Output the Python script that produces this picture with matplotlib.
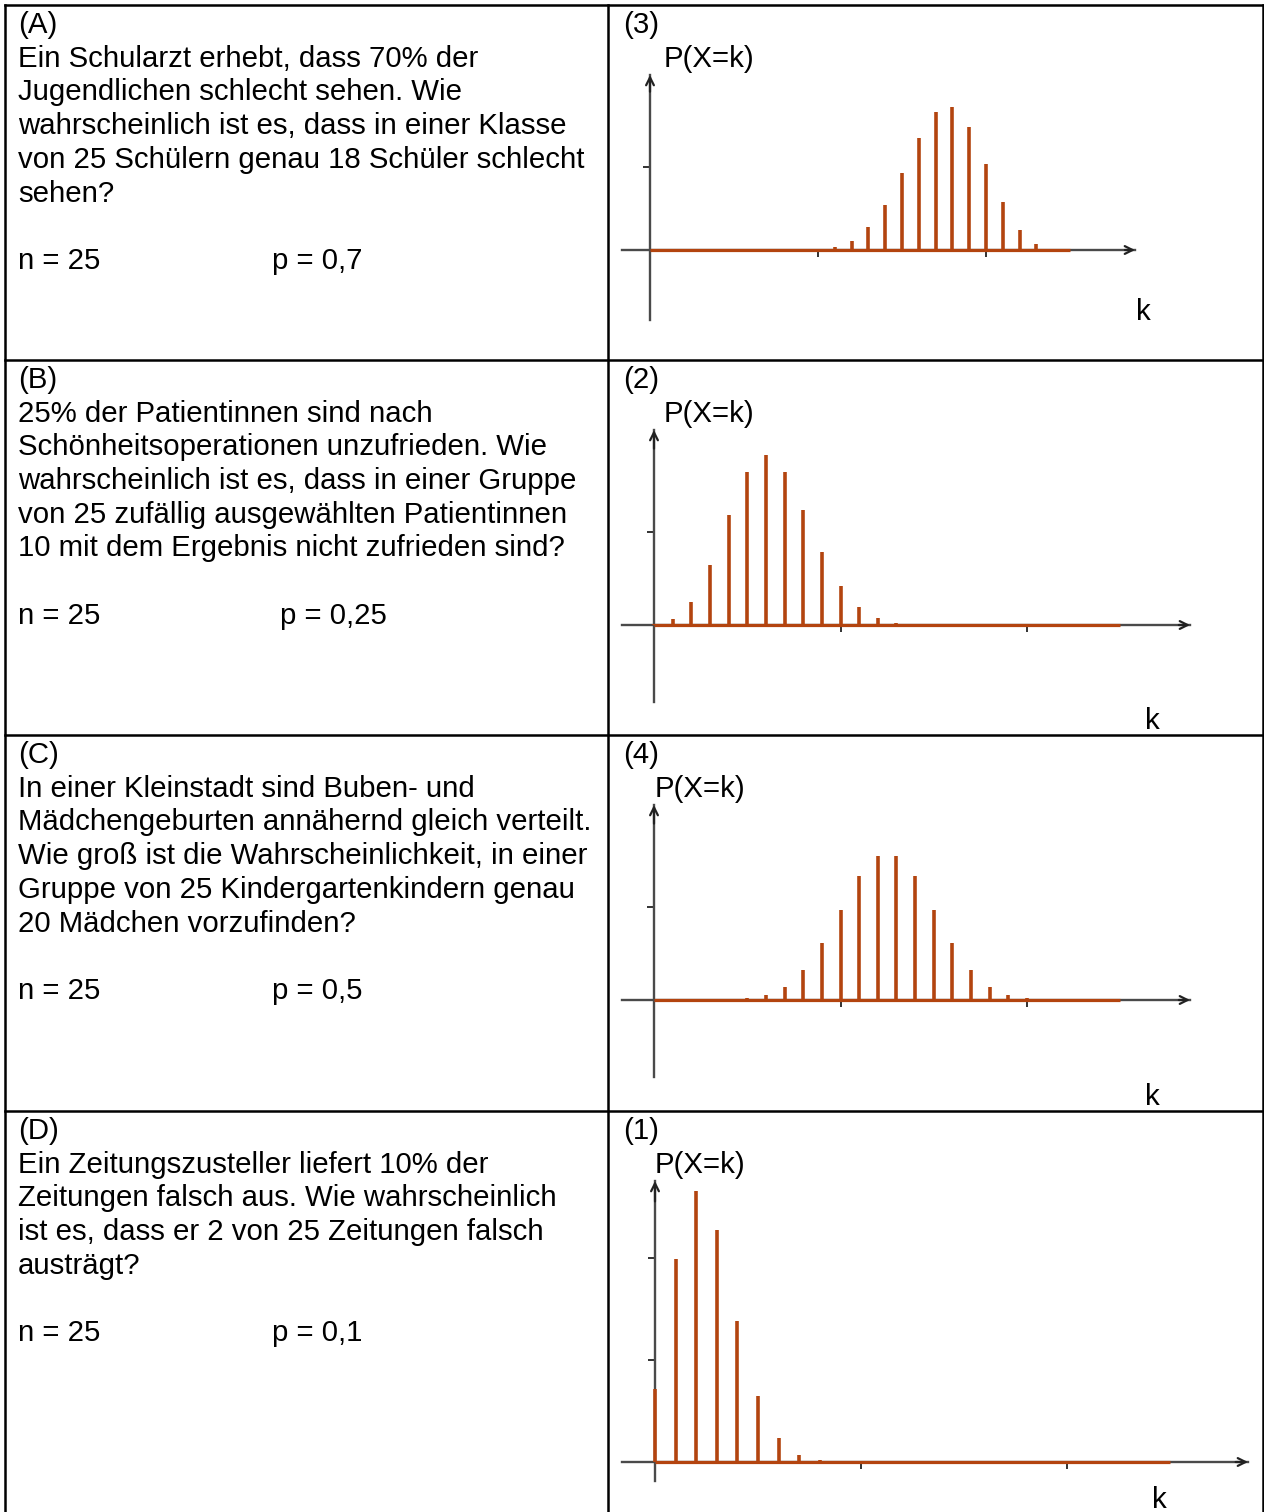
import matplotlib
matplotlib.use("Agg")
import matplotlib.pyplot as plt

plt.rcParams['font.family'] = ['Liberation Sans', 'DejaVu Sans']

# k = 0..25
k = list(range(26))
p_panel3 = [0, 0, 0, 0, 0, 0, 0, 0, 0, 0, 0.001, 0.004, 0.011, 0.027, 0.054,
            0.092, 0.134, 0.165, 0.171, 0.147, 0.103, 0.057, 0.024, 0.007,
            0.001, 0.0001]
p_panel2 = [0.001, 0.006, 0.025, 0.064, 0.118, 0.165, 0.183, 0.165, 0.124,
            0.078, 0.042, 0.019, 0.007, 0.002, 0.001, 0, 0, 0, 0, 0, 0, 0,
            0, 0, 0, 0]
p_panel4 = [0, 0, 0, 0, 0.0004, 0.002, 0.005, 0.014, 0.032, 0.061, 0.097,
            0.133, 0.155, 0.155, 0.133, 0.097, 0.061, 0.032, 0.014, 0.005,
            0.002, 0.0004, 0, 0, 0, 0]
p_panel1 = [0.072, 0.199, 0.266, 0.227, 0.138, 0.065, 0.024, 0.007, 0.002,
            0.0004, 0, 0, 0, 0, 0, 0, 0, 0, 0, 0, 0, 0, 0, 0, 0, 0]

panel_labels = ['(3)', '(2)', '(4)', '(1)']
panel_probs = [p_panel3, p_panel2, p_panel4, p_panel1]
panel_yticks = [[0.1], [0.1], [0.1], [0.1, 0.2]]

task_texts = [
    ["(A)", "Ein Schularzt erhebt, dass 70% der",
     "Jugendlichen schlecht sehen. Wie",
     "wahrscheinlich ist es, dass in einer Klasse",
     "von 25 Schülern genau 18 Schüler schlecht", "sehen?"],
    ["(B)", "25% der Patientinnen sind nach",
     "Schönheitsoperationen unzufrieden. Wie",
     "wahrscheinlich ist es, dass in einer Gruppe",
     "von 25 zufällig ausgewählten Patientinnen",
     "10 mit dem Ergebnis nicht zufrieden sind?"],
    ["(C)", "In einer Kleinstadt sind Buben- und",
     "Mädchengeburten annähernd gleich verteilt.",
     "Wie groß ist die Wahrscheinlichkeit, in einer",
     "Gruppe von 25 Kindergartenkindern genau",
     "20 Mädchen vorzufinden?"],
    ["(D)", "Ein Zeitungszusteller liefert 10% der",
     "Zeitungen falsch aus. Wie wahrscheinlich",
     "ist es, dass er 2 von 25 Zeitungen falsch", "austrägt?"],
]
n_texts = ["n = 25", "n = 25", "n = 25", "n = 25"]
p_texts = ["p = 0,7", "p = 0,25", "p = 0,5", "p = 0,1"]

# layout in pixels (figure 1264 x 1512)
W, H = 1264, 1512
row_tops = [5, 360, 735, 1111]
row_bots = [360, 735, 1111, 1512]
col_x = 608
p_x = [272, 280, 272, 272]
line_h = 33.7
# origin x, origin y, px per k, px per unit, y-axis top/bottom, x-axis left/right, label x
geo = [
    (650, 250, 16.8, 835, 75, 320, 622, 1135, 664, 1136, 320),
    (654, 625, 18.65, 930, 430, 702, 622, 1190, 664, 1145, 729),
    (654, 1000, 18.65, 930, 805, 1077, 622, 1190, 655, 1145, 1105),
    (655, 1462, 20.6, 1020, 1181, 1481, 622, 1248, 655, 1152, 1508),
]

stem_color = '#b3440f'
axis_color = '#4a4a4a'
fs = 21.2

fig = plt.figure(figsize=(W / 100, H / 100), dpi=100)

# table frame and text in pixel coordinates
bg = fig.add_axes([0, 0, 1, 1])
bg.set_xlim(0, W)
bg.set_ylim(H, 0)
bg.axis('off')
lw_frame = 1.8
bg.plot([5, 5], [5, H], color='black', lw=lw_frame)
bg.plot([W - 1.5, W - 1.5], [5, H], color='black', lw=lw_frame)
bg.plot([col_x, col_x], [5, H], color='black', lw=lw_frame)
for y in row_tops:
    bg.plot([5, W], [y, y], color='black', lw=lw_frame)

for i in range(4):
    base = row_tops[i] + 28
    for j, line in enumerate(task_texts[i]):
        bg.text(18, base + j * line_h, line, fontsize=fs, va='baseline')
    ny = base + (len(task_texts[i]) + 1) * line_h
    bg.text(18, ny, n_texts[i], fontsize=fs, va='baseline')
    bg.text(p_x[i], ny, p_texts[i], fontsize=fs, va='baseline')
    bg.text(623, base, panel_labels[i], fontsize=fs, va='baseline')
    g = geo[i]
    bg.text(g[8], base + line_h, 'P(X=k)', fontsize=fs, va='baseline')
    bg.text(g[9], g[10], 'k', fontsize=fs, va='baseline')

# stem charts
for i in range(4):
    ox, oy, sx, sy, ytop, ybot, xl, xr = geo[i][:8]
    y0, y1 = row_tops[i], row_bots[i]
    ax = fig.add_axes([col_x / W, 1 - y1 / H, (W - col_x) / W, (y1 - y0) / H])
    ax.patch.set_alpha(0)
    ax.set_xlim((col_x - ox) / sx, (W - ox) / sx)
    ax.set_ylim((oy - y1) / sy, (oy - y0) / sy)
    for s in ['top', 'right']:
        ax.spines[s].set_visible(False)
    ax.spines['left'].set_position(('data', 0))
    ax.spines['bottom'].set_position(('data', 0))
    ax.spines['left'].set_bounds((oy - ybot) / sy, (oy - ytop) / sy)
    ax.spines['bottom'].set_bounds((xl - ox) / sx, (xr - ox) / sx)
    for s in ['left', 'bottom']:
        ax.spines[s].set_color(axis_color)
        ax.spines[s].set_linewidth(1.7)
    ax.set_xticks([10, 20])
    ax.set_yticks(panel_yticks[i])
    ax.tick_params(direction='out', length=5, width=1.3, color='#222222',
                   labelbottom=False, labelleft=False)
    # arrow heads
    xe = (xr - ox) / sx
    ye = (oy - ytop) / sy
    ax.annotate('', xy=(xe, 0), xytext=(xe - 0.6, 0),
                arrowprops=dict(arrowstyle='->', color='#222222', lw=1.6,
                                mutation_scale=14, shrinkA=0, shrinkB=0))
    ax.annotate('', xy=(0, ye), xytext=(0, ye - 0.02),
                arrowprops=dict(arrowstyle='->', color='#222222', lw=1.6,
                                mutation_scale=14, shrinkA=0, shrinkB=0))
    ax.hlines(0, k[0], k[-1], color=stem_color, lw=2.3, zorder=3)
    ax.vlines(k, 0, panel_probs[i], color=stem_color, lw=2.6, zorder=3)

fig.savefig('out.png', dpi=100)
